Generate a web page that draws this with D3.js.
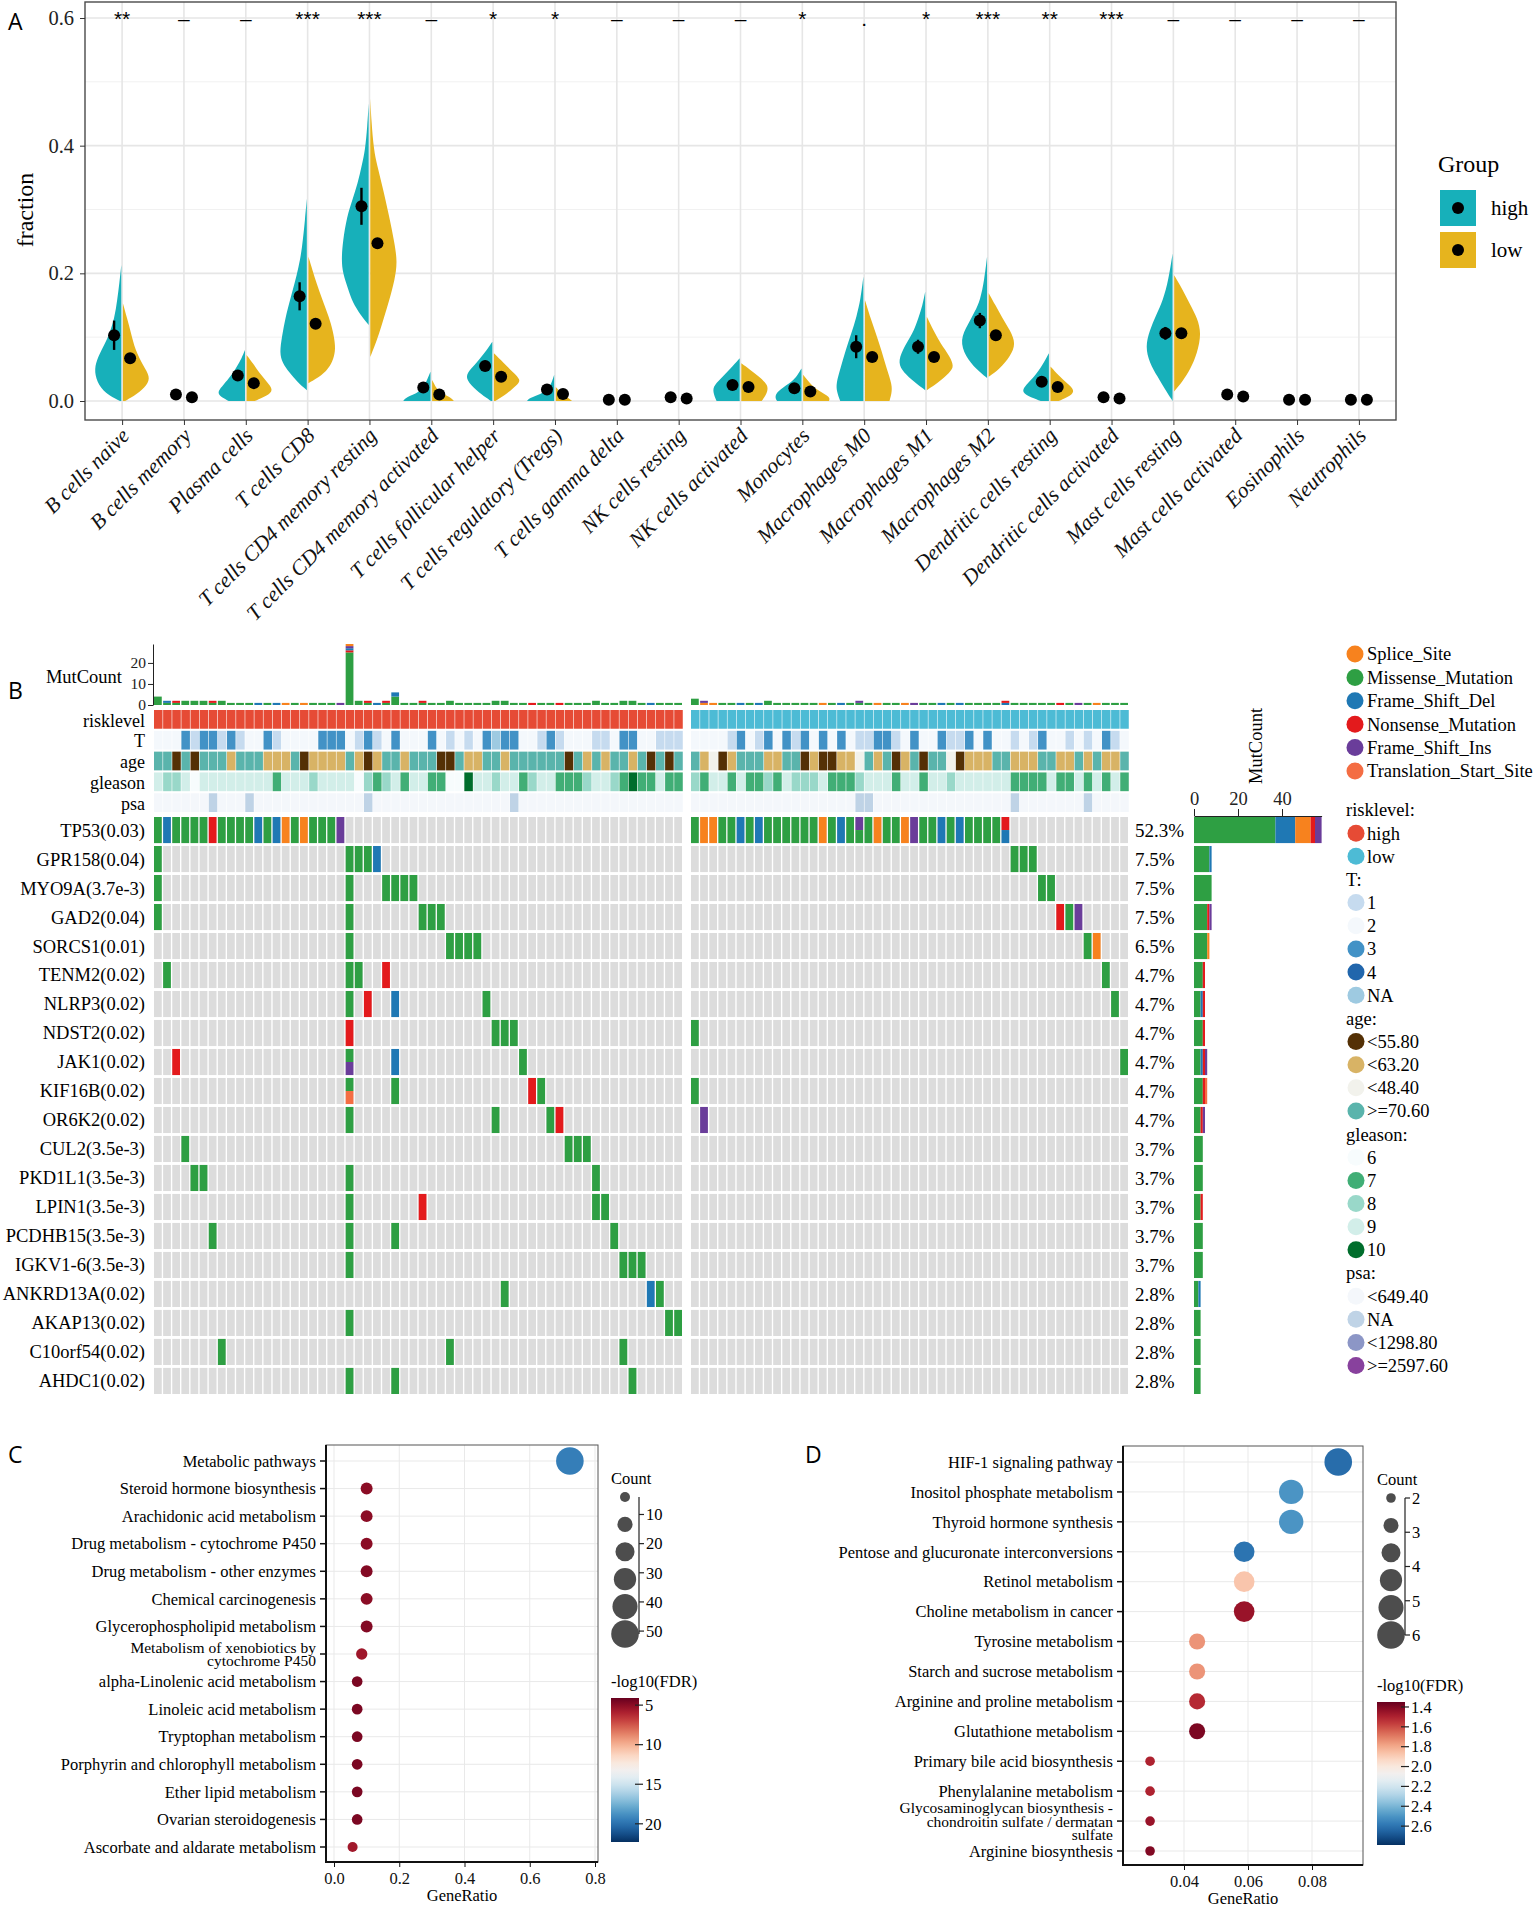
<!DOCTYPE html>
<html>
<head>
<meta charset="utf-8">
<script src="https://cdn.jsdelivr.net/npm/d3@7/dist/d3.min.js"></script>
<style>
  body { margin: 0; background: #fff; }
  svg text { font-family: "Liberation Serif", "Times New Roman", serif; }
</style>
</head>
<body>
<svg id="fig" width="1535" height="1910"></svg>
<script>
// ---------- A: immune cell fractions ----------
var cellTypes = ["B cells naive", "B cells memory", "Plasma cells", "T cells CD8", "T cells CD4 memory resting",
    "T cells CD4 memory activated", "T cells follicular helper", "T cells regulatory (Tregs)", "T cells gamma delta",
    "NK cells resting", "NK cells activated", "Monocytes", "Macrophages M0", "Macrophages M1", "Macrophages M2",
    "Dendritic cells resting", "Dendritic cells activated", "Mast cells resting", "Mast cells activated",
    "Eosinophils", "Neutrophils"];
var sigLabels = ["**", "–", "–", "***", "***", "–", "*", "*", "–", "–", "–", "*", ".", "*", "***", "**", "***", "–", "–", "–", "–"];
var highMean = [0.103, 0.010, 0.040, 0.164, 0.305, 0.021, 0.055, 0.018, 0.002, 0.006, 0.025, 0.020, 0.085, 0.085, 0.126, 0.030, 0.006, 0.106, 0.010, 0.002, 0.002];
var lowMean = [0.067, 0.006, 0.028, 0.121, 0.247, 0.010, 0.038, 0.011, 0.002, 0.004, 0.022, 0.015, 0.069, 0.069, 0.103, 0.022, 0.004, 0.106, 0.007, 0.002, 0.002];
var highErr = [0.023, 0.002, 0.006, 0.022, 0.029, 0.004, 0.008, 0.004, 0, 0.001, 0.004, 0.004, 0.018, 0.011, 0.012, 0.006, 0.001, 0.010, 0.002, 0, 0];
var lowErr = [0.005, 0.001, 0.004, 0.007, 0.008, 0.002, 0.005, 0.002, 0, 0.001, 0.003, 0.003, 0.006, 0.006, 0.007, 0.004, 0.001, 0.008, 0.001, 0, 0];
// violin outlines: [fraction, relative half width]
var highViolins = [
    [[0, 0.05], [0.012, 0.6], [0.03, 0.9], [0.05, 1], [0.07, 0.85], [0.09, 0.6], [0.106, 0.43], [0.13, 0.25], [0.158, 0.15], [0.185, 0.07], [0.213, 0]],
    null,
    [[0, 0.6], [0.008, 0.95], [0.015, 1], [0.025, 0.8], [0.04, 0.5], [0.054, 0.3], [0.067, 0.12], [0.08, 0]],
    [[0.017, 0], [0.03, 0.35], [0.045, 0.65], [0.06, 0.9], [0.075, 1], [0.1, 0.92], [0.132, 0.78], [0.158, 0.62], [0.184, 0.45], [0.21, 0.3], [0.237, 0.18], [0.287, 0.06], [0.317, 0]],
    [[0.119, 0], [0.135, 0.3], [0.155, 0.6], [0.175, 0.75], [0.2, 0.95], [0.221, 1], [0.25, 0.95], [0.289, 0.8], [0.315, 0.6], [0.341, 0.4], [0.37, 0.25], [0.393, 0.13], [0.43, 0.05], [0.466, 0]],
    [[0, 1], [0.006, 0.9], [0.012, 0.5], [0.02, 0.3], [0.03, 0.15], [0.046, 0]],
    [[0, 0.05], [0.01, 0.4], [0.025, 0.8], [0.038, 1], [0.05, 0.8], [0.064, 0.5], [0.08, 0.2], [0.093, 0]],
    [[0, 1], [0.005, 0.9], [0.01, 0.5], [0.02, 0.2], [0.03, 0.08], [0.041, 0]],
    null,
    null,
    [[0, 0.85], [0.01, 0.95], [0.022, 1], [0.035, 0.7], [0.05, 0.35], [0.067, 0]],
    [[0, 0.9], [0.008, 1], [0.018, 0.8], [0.03, 0.35], [0.04, 0.15], [0.051, 0]],
    [[0, 0.85], [0.015, 0.98], [0.028, 1], [0.05, 0.85], [0.08, 0.65], [0.105, 0.45], [0.132, 0.25], [0.16, 0.1], [0.195, 0]],
    [[0.017, 0], [0.03, 0.4], [0.045, 0.8], [0.059, 1], [0.08, 0.85], [0.106, 0.45], [0.13, 0.25], [0.15, 0.1], [0.171, 0]],
    [[0.036, 0], [0.05, 0.4], [0.07, 0.8], [0.096, 1], [0.12, 0.7], [0.14, 0.45], [0.158, 0.25], [0.19, 0.1], [0.226, 0]],
    [[0, 0.3], [0.008, 0.8], [0.015, 1], [0.025, 0.85], [0.04, 0.5], [0.055, 0.25], [0.075, 0]],
    null,
    [[0, 0], [0.02, 0.3], [0.038, 0.55], [0.06, 0.85], [0.085, 1], [0.11, 0.85], [0.135, 0.6], [0.158, 0.35], [0.19, 0.15], [0.231, 0]],
    null,
    null,
    null
];
var lowViolins = [
    [[0, 0.08], [0.01, 0.5], [0.025, 0.9], [0.038, 1], [0.055, 0.75], [0.08, 0.45], [0.106, 0.3], [0.13, 0.15], [0.153, 0]],
    null,
    [[0, 0.3], [0.008, 0.75], [0.017, 1], [0.03, 0.75], [0.045, 0.45], [0.058, 0.25], [0.072, 0]],
    [[0.028, 0], [0.04, 0.5], [0.054, 0.8], [0.07, 0.95], [0.085, 1], [0.11, 0.9], [0.132, 0.75], [0.16, 0.5], [0.184, 0.3], [0.205, 0.15], [0.226, 0]],
    [[0.069, 0], [0.085, 0.15], [0.106, 0.33], [0.13, 0.5], [0.158, 0.7], [0.19, 0.9], [0.218, 1], [0.25, 0.88], [0.289, 0.7], [0.341, 0.42], [0.37, 0.25], [0.393, 0.13], [0.44, 0.04], [0.474, 0]],
    [[0, 0.8], [0.005, 0.7], [0.012, 0.35], [0.02, 0.15], [0.033, 0]],
    [[0, 0.05], [0.012, 0.5], [0.025, 0.85], [0.033, 1], [0.045, 0.7], [0.06, 0.35], [0.075, 0]],
    [[0, 0.6], [0.005, 0.45], [0.012, 0.2], [0.022, 0]],
    null,
    null,
    [[0, 0.75], [0.012, 0.95], [0.025, 1], [0.038, 0.65], [0.05, 0.3], [0.059, 0]],
    [[0, 0.95], [0.006, 1], [0.015, 0.6], [0.025, 0.3], [0.041, 0]],
    [[0, 0.9], [0.012, 0.98], [0.025, 1], [0.05, 0.8], [0.08, 0.6], [0.106, 0.4], [0.13, 0.2], [0.158, 0]],
    [[0.017, 0], [0.03, 0.45], [0.045, 0.85], [0.054, 1], [0.07, 0.85], [0.09, 0.5], [0.11, 0.25], [0.132, 0]],
    [[0.038, 0], [0.05, 0.4], [0.07, 0.8], [0.09, 1], [0.11, 0.8], [0.13, 0.5], [0.15, 0.25], [0.169, 0]],
    [[0, 0.3], [0.008, 0.75], [0.017, 0.9], [0.028, 0.6], [0.04, 0.3], [0.054, 0]],
    null,
    [[0.015, 0], [0.03, 0.3], [0.05, 0.6], [0.075, 0.85], [0.106, 1], [0.13, 0.85], [0.15, 0.6], [0.175, 0.3], [0.197, 0]],
    null,
    null,
    null
];
var groupNames = ["high", "low"];
var groupColors = ["#17B0BA", "#E6B41E"];

// ---------- B: oncoplot ----------
var genes = ["TP53", "GPR158", "MYO9A", "GAD2", "SORCS1", "TENM2", "NLRP3", "NDST2", "JAK1", "KIF16B", "OR6K2",
    "CUL2", "PKD1L1", "LPIN1", "PCDHB15", "IGKV1-6", "ANKRD13A", "AKAP13", "C10orf54", "AHDC1"];
var genePval = ["0.03", "0.04", "3.7e-3", "0.04", "0.01", "0.02", "0.02", "0.02", "0.02", "0.02", "0.02",
    "3.5e-3", "3.5e-3", "3.5e-3", "3.5e-3", "3.5e-3", "0.02", "0.02", "0.02", "0.02"];
var genePct = ["52.3%", "7.5%", "7.5%", "7.5%", "6.5%", "4.7%", "4.7%", "4.7%", "4.7%", "4.7%", "4.7%",
    "3.7%", "3.7%", "3.7%", "3.7%", "3.7%", "2.8%", "2.8%", "2.8%", "2.8%"];
var mutCodes = ["S", "M", "D", "N", "I", "T"];
var mutNames = ["Splice_Site", "Missense_Mutation", "Frame_Shift_Del", "Nonsense_Mutation", "Frame_Shift_Ins", "Translation_Start_Site"];
var mutColors = ["#F7821E", "#2E9F43", "#1F78B4", "#E31A1C", "#6A3D9A", "#F46D43"];
// [sample column, mutation types (top to bottom when split)]
var highRows = [
    [[0, "M"], [1, "D"], [2, "M"], [3, "M"], [4, "M"], [5, "M"], [6, "N"], [7, "M"], [8, "M"], [9, "M"], [10, "M"], [11, "D"], [12, "M"], [13, "D"], [14, "S"], [15, "M"], [16, "S"], [17, "M"], [18, "M"], [19, "M"], [20, "I"]],
    [[0, "M"], [21, "M"], [22, "M"], [23, "M"], [24, "D"]],
    [[0, "M"], [21, "M"], [25, "M"], [26, "M"], [27, "M"], [28, "M"]],
    [[0, "M"], [21, "M"], [29, "M"], [30, "M"], [31, "M"]],
    [[21, "M"], [32, "M"], [33, "M"], [34, "M"], [35, "M"]],
    [[1, "M"], [21, "M"], [22, "M"], [25, "N"]],
    [[21, "M"], [23, "N"], [26, "D"], [36, "M"]],
    [[21, "N"], [37, "M"], [38, "M"], [39, "M"]],
    [[2, "N"], [21, "MI"], [26, "D"], [40, "M"]],
    [[21, "MT"], [26, "M"], [41, "N"], [42, "M"]],
    [[21, "M"], [37, "M"], [43, "M"], [44, "N"]],
    [[3, "M"], [45, "M"], [46, "M"], [47, "M"]],
    [[4, "M"], [5, "M"], [21, "M"], [48, "M"]],
    [[21, "M"], [29, "N"], [48, "M"], [49, "M"]],
    [[6, "M"], [21, "M"], [26, "M"], [50, "M"]],
    [[21, "M"], [51, "M"], [52, "M"], [53, "M"]],
    [[38, "M"], [54, "D"], [55, "M"]],
    [[21, "M"], [56, "M"], [57, "M"]],
    [[7, "M"], [32, "M"], [51, "M"]],
    [[21, "M"], [26, "M"], [52, "M"]]
];
var lowRows = [
    [[0, "M"], [1, "S"], [2, "S"], [3, "M"], [4, "M"], [5, "D"], [6, "M"], [7, "D"], [8, "M"], [9, "M"], [10, "M"], [11, "M"], [12, "M"], [13, "M"], [14, "S"], [15, "M"], [16, "D"], [17, "M"], [18, "IM"], [19, "M"], [20, "S"], [21, "M"], [22, "M"], [23, "S"], [24, "I"], [25, "M"], [26, "M"], [27, "D"], [28, "M"], [29, "D"], [30, "M"], [31, "M"], [32, "M"], [33, "M"], [34, "ND"]],
    [[35, "M"], [36, "M"], [37, "M"]],
    [[38, "M"], [39, "M"]],
    [[40, "N"], [41, "M"], [42, "I"]],
    [[43, "M"], [44, "S"]],
    [[45, "M"]],
    [[46, "M"]],
    [[0, "M"]],
    [[47, "M"]],
    [[0, "M"]],
    [[1, "I"]],
    [], [], [], [], [], [], [], [], []
];
// total mutations per sample (type + count, stacked bottom to top)
var mutCountHigh = ["M4", "M1D1", "M1N1", "M2", "M2", "M2", "M1N1", "M2", "M1", "M1",
    "M1", "D1", "M1", "D1", "S1", "M1", "S1", "M1", "M1", "M1",
    "I1", "M25N1D1I1S1", "M2", "M1N1", "D1", "M1N1", "M4D2", "M1", "M1", "M1N1",
    "M1", "M1", "M2", "M1", "M1", "M1", "M1", "M2", "M2", "M1",
    "M1", "N1", "M1", "M1", "N1", "M1", "M1", "M1", "M2", "M1",
    "M1", "M2", "M2", "M1", "D1", "M1", "M1", "M1"];
var mutCountLow = ["M3", "S1I1", "S1", "M1", "M1", "D1", "M1", "D1", "M2", "M1",
    "M1", "M1", "M1", "M1", "S1", "M1", "D1", "M1", "M1I1", "M1",
    "S1", "M1", "M1", "S1", "I1", "M1", "M1", "D1", "M1", "D1",
    "M1", "M1", "M1", "M1", "D1N1", "M1", "M1", "M1", "M1", "M1",
    "N1", "M1", "I1", "M1", "S1", "M1", "M1", "M1"];
var annoNames = ["risklevel", "T", "age", "gleason", "psa"];
var riskLevels = ["high", "low"];
var riskColors = ["#E64B35", "#4DBBD5"];
var tLevels = ["1", "2", "3", "4", "NA"];
var tColors = ["#C6DBEF", "#F4F8FC", "#4292C6", "#2166AC", "#9ECAE1"];
var ageLevels = ["<55.80", "<63.20", "<48.40", ">=70.60"];
var ageColors = ["#543005", "#D8B365", "#F2F2EC", "#5AB4AC"];
var gleasonLevels = ["6", "7", "8", "9", "10"];
var gleasonColors = ["#F7FCFD", "#41AE76", "#99D8C9", "#D2EEE9", "#006D2C"];
var psaLevels = ["<649.40", "NA", "<1298.80", ">=2597.60"];
var psaColors = ["#F4F7FB", "#BFD3E6", "#8C96C6", "#88419D"];
// per-sample clinical codes (index into the level lists; T uses 1-4 and N for NA)
var tHigh = "2223133131" + "2231222233" + "3213123222" + "3212123N33" + "2213122211" + "23322111";
var tLow = "2222132132" + "3132323211" + "3312322311" + "3232212132" + "21212312";
var ageHigh = "3303033313" + "3311130111" + "1310133133" + "3003113313" + "3333303131" + "33130303";
var ageLow = "3120133311" + "3301001123" + "1301303320" + "1113311133" + "11313113";
var gleasonHigh = "3223033333" + "3331333233" + "3302123133" + "1100433233" + "1233111233" + "21411311";
var gleasonLow = "2133131121" + "3222311123" + "3313313323" + "3333311113" + "11313131";
var psaHigh = "0000001000" + "1000000000" + "0001000000" + "0000000001" + "0000000000" + "00000000";
var psaLow = "0000000000" + "0000000011" + "0000000000" + "0000010000" + "00010000";

// ---------- C / D: KEGG enrichment ----------
var keggC = ["Metabolic pathways", "Steroid hormone biosynthesis", "Arachidonic acid metabolism",
    "Drug metabolism - cytochrome P450", "Drug metabolism - other enzymes", "Chemical carcinogenesis",
    "Glycerophospholipid metabolism", "Metabolism of xenobiotics by\ncytochrome P450", "alpha-Linolenic acid metabolism",
    "Linoleic acid metabolism", "Tryptophan metabolism", "Porphyrin and chlorophyll metabolism",
    "Ether lipid metabolism", "Ovarian steroidogenesis", "Ascorbate and aldarate metabolism"];
var ratioC = [0.723, 0.1, 0.1, 0.1, 0.1, 0.1, 0.1, 0.085, 0.071, 0.071, 0.071, 0.071, 0.071, 0.071, 0.057];
var countC = [51, 7, 7, 7, 7, 7, 7, 6, 5, 5, 5, 5, 5, 5, 4];
var fdrC = [19.5, 5, 5, 5, 4.8, 5, 4.8, 5.5, 4.6, 4.6, 4.6, 4.6, 4.6, 4.6, 5.6];
var keggD = ["HIF-1 signaling pathway", "Inositol phosphate metabolism", "Thyroid hormone synthesis",
    "Pentose and glucuronate interconversions", "Retinol metabolism", "Choline metabolism in cancer",
    "Tyrosine metabolism", "Starch and sucrose metabolism", "Arginine and proline metabolism",
    "Glutathione metabolism", "Primary bile acid biosynthesis", "Phenylalanine metabolism",
    "Glycosaminoglycan biosynthesis -\nchondroitin sulfate / dermatan\nsulfate", "Arginine biosynthesis"];
var ratioD = [0.0882, 0.0735, 0.0735, 0.0588, 0.0588, 0.0588, 0.0441, 0.0441, 0.0441, 0.0441, 0.0294, 0.0294, 0.0294, 0.0294];
var countD = [6, 5, 5, 4, 4, 4, 3, 3, 3, 3, 2, 2, 2, 2];
var fdrD = [2.62, 2.5, 2.5, 2.6, 1.87, 1.45, 1.75, 1.75, 1.52, 1.39, 1.5, 1.5, 1.45, 1.4];

var svg = d3.select("#fig");

// panel letters
svg.selectAll("text.letter")
    .data([["A", 8, 30], ["B", 8, 699], ["C", 8, 1463], ["D", 805, 1463]])
    .enter()
    .append("text")
    .attr("x", function (d) { return d[1]; })
    .attr("y", function (d) { return d[2]; })
    .style("font-family", "'Open Sans', 'DejaVu Sans', sans-serif")
    .attr("font-size", 23)
    .text(function (d) { return d[0]; });

// ===== panel A =====
var aLeft = 85, aRight = 1396, aTop = 2, aBottom = 420;
var xA = d3.scalePoint().domain(cellTypes).range([aLeft, aRight]).padding(0.6);
var yA = d3.scaleLinear().domain([0, 0.6]).range([401, 18]);
var halfW = xA.step() * 0.44;
var dodge = 8;
var panelA = svg.append("g");

panelA.selectAll("line.minor")
    .data([0.1, 0.3, 0.5])
    .enter()
    .append("line")
    .attr("x1", aLeft).attr("x2", aRight)
    .attr("y1", yA).attr("y2", yA)
    .attr("stroke", "#F1F1F1")
    .attr("stroke-width", 1);
panelA.selectAll("line.major")
    .data([0, 0.2, 0.4, 0.6])
    .enter()
    .append("line")
    .attr("x1", aLeft).attr("x2", aRight)
    .attr("y1", yA).attr("y2", yA)
    .attr("stroke", "#E6E6E6")
    .attr("stroke-width", 1.6);
panelA.selectAll("line.vgrid")
    .data(cellTypes)
    .enter()
    .append("line")
    .attr("x1", xA).attr("x2", xA)
    .attr("y1", aTop).attr("y2", aBottom)
    .attr("stroke", "#E6E6E6")
    .attr("stroke-width", 1.6);

function halfViolin(profile, cx, side) {
    return d3.area()
        .curve(d3.curveBasis)
        .y(function (d) { return yA(d[0]); })
        .x0(cx + side * 0.8)
        .x1(function (d) { return cx + side * (0.8 + d[1] * halfW); })(profile);
}

cellTypes.forEach(function (c, i) {
    var cx = xA(c);
    if (highViolins[i]) {
        panelA.append("path").attr("d", halfViolin(highViolins[i], cx, -1)).attr("fill", groupColors[0]);
    }
    if (lowViolins[i]) {
        panelA.append("path").attr("d", halfViolin(lowViolins[i], cx, 1)).attr("fill", groupColors[1]);
    }
});

[[highMean, highErr, -1], [lowMean, lowErr, 1]].forEach(function (g) {
    panelA.append("g").selectAll("line")
        .data(cellTypes)
        .enter()
        .append("line")
        .attr("x1", function (d) { return xA(d) + g[2] * dodge; })
        .attr("x2", function (d) { return xA(d) + g[2] * dodge; })
        .attr("y1", function (d, i) { return yA(g[0][i] - g[1][i]); })
        .attr("y2", function (d, i) { return yA(g[0][i] + g[1][i]); })
        .attr("stroke", "#000")
        .attr("stroke-width", 2.4);
    panelA.append("g").selectAll("circle")
        .data(cellTypes)
        .enter()
        .append("circle")
        .attr("cx", function (d) { return xA(d) + g[2] * dodge; })
        .attr("cy", function (d, i) { return yA(g[0][i]); })
        .attr("r", 6)
        .attr("fill", "#000");
});

panelA.append("g").selectAll("text")
    .data(cellTypes)
    .enter()
    .append("text")
    .attr("x", xA)
    .attr("y", 26)
    .attr("text-anchor", "middle")
    .style("font-family", "'Liberation Sans', Arial, sans-serif")
    .attr("font-size", 21)
    .text(function (d, i) { return sigLabels[i]; });

panelA.append("rect")
    .attr("x", aLeft).attr("y", aTop)
    .attr("width", aRight - aLeft).attr("height", aBottom - aTop)
    .attr("fill", "none")
    .attr("stroke", "#4A4A4A")
    .attr("stroke-width", 1.4);

var yAxisA = panelA.append("g")
    .attr("transform", "translate(" + aLeft + ",0)")
    .attr("color", "#333")
    .call(d3.axisLeft(yA).tickValues([0, 0.2, 0.4, 0.6]).tickFormat(d3.format(".1f")).tickSize(5).tickPadding(6));
yAxisA.select(".domain").remove();
yAxisA.selectAll("text").attr("font-size", 20.5).attr("fill", "#222");

var xAxisA = panelA.append("g")
    .attr("transform", "translate(0," + aBottom + ")")
    .attr("color", "#333")
    .call(d3.axisBottom(xA).tickSize(5));
xAxisA.select(".domain").remove();
xAxisA.selectAll("text")
    .attr("x", 0).attr("y", 0).attr("dy", 0)
    .attr("transform", "translate(8,17) rotate(-45)")
    .style("text-anchor", "end")
    .attr("font-style", "italic")
    .attr("font-size", 21.5)
    .attr("fill", "#111");

svg.append("text")
    .attr("transform", "translate(33,210) rotate(-90)")
    .attr("text-anchor", "middle")
    .attr("font-size", 24)
    .text("fraction");

var legA = svg.append("g");
legA.append("text").attr("x", 1438).attr("y", 172).attr("font-size", 24).text("Group");
groupNames.forEach(function (g, i) {
    var top = 190 + i * 42;
    legA.append("rect").attr("x", 1440).attr("y", top).attr("width", 36).attr("height", 36).attr("fill", groupColors[i]);
    legA.append("circle").attr("cx", 1458).attr("cy", top + 18).attr("r", 6).attr("fill", "#000");
    legA.append("text").attr("x", 1491).attr("y", top + 25).attr("font-size", 21).text(g);
});

// ===== panel B =====
var mutColor = d3.scaleOrdinal().domain(mutCodes).range(mutColors);
var xHigh = d3.scaleBand().domain(d3.range(mutCountHigh.length)).range([154, 682]).paddingInner(0.15);
var xLow = d3.scaleBand().domain(d3.range(mutCountLow.length)).range([691, 1128]).paddingInner(0.15);
var yGene = d3.scaleBand().domain(genes).range([817, 1394]).paddingInner(0.1);
var yAnno = d3.scaleBand().domain(annoNames).range([710, 812]).paddingInner(0.1);
var yMut = d3.scaleLinear().domain([0, 29]).range([705, 644]);
var panelB = svg.append("g");

var blocks = [
    { x: xHigh, rows: highRows, bars: mutCountHigh, risk: "high", t: tHigh, age: ageHigh, gleason: gleasonHigh, psa: psaHigh },
    { x: xLow, rows: lowRows, bars: mutCountLow, risk: "low", t: tLow, age: ageLow, gleason: gleasonLow, psa: psaLow }
];

function parseBar(s) {
    var parts = [], m, re = /([A-Z])(\d+)/g;
    while ((m = re.exec(s)) !== null) { parts.push([m[1], +m[2]]); }
    return parts;
}

blocks.forEach(function (b) {
    var cols = b.x.domain();
    var w = b.x.bandwidth();
    var step = b.x.step();

    // top mutation counts
    cols.forEach(function (c) {
        var acc = 0;
        parseBar(b.bars[c]).forEach(function (p) {
            panelB.append("rect")
                .attr("x", b.x(c)).attr("width", w)
                .attr("y", yMut(acc + p[1]))
                .attr("height", yMut(acc) - yMut(acc + p[1]))
                .attr("fill", mutColor(p[0]));
            acc += p[1];
        });
    });

    // clinical annotation tracks
    var tracks = [
        cols.map(function () { return riskColors[riskLevels.indexOf(b.risk)]; }),
        b.t.split("").map(function (ch) { return tColors[ch === "N" ? 4 : +ch - 1]; }),
        b.age.split("").map(function (ch) { return ageColors[+ch]; }),
        b.gleason.split("").map(function (ch) { return gleasonColors[+ch]; }),
        b.psa.split("").map(function (ch) { return psaColors[+ch]; })
    ];
    tracks.forEach(function (colors, k) {
        panelB.append("g").selectAll("rect")
            .data(cols)
            .enter()
            .append("rect")
            .attr("x", function (c) { return b.x(c); })
            .attr("y", yAnno(annoNames[k]))
            .attr("width", step - 0.6)
            .attr("height", yAnno.bandwidth())
            .attr("fill", function (c) { return colors[c]; });
    });

    // oncoprint cells
    genes.forEach(function (g, gi) {
        panelB.append("g").selectAll("rect")
            .data(cols)
            .enter()
            .append("rect")
            .attr("x", function (c) { return b.x(c); })
            .attr("y", yGene(g))
            .attr("width", w)
            .attr("height", yGene.bandwidth())
            .attr("fill", "#DCDCDC");
        b.rows[gi].forEach(function (m) {
            var types = m[1].split("");
            var h = yGene.bandwidth() / types.length;
            types.forEach(function (t, k) {
                panelB.append("rect")
                    .attr("x", b.x(m[0])).attr("width", w)
                    .attr("y", yGene(g) + k * h).attr("height", h)
                    .attr("fill", mutColor(t));
            });
        });
    });
});

// mutcount axis
var mutAxis = panelB.append("g")
    .attr("transform", "translate(153,0)")
    .attr("color", "#222")
    .call(d3.axisLeft(yMut).tickValues([0, 10, 20]).tickSize(5).tickSizeOuter(0).tickPadding(2));
mutAxis.selectAll("text").attr("font-size", 15.5);
panelB.append("text").attr("x", 122).attr("y", 683).attr("text-anchor", "end").attr("font-size", 18.5).text("MutCount");

// row and track labels
panelB.append("g").selectAll("text")
    .data(genes)
    .enter()
    .append("text")
    .attr("x", 145)
    .attr("y", function (d) { return yGene(d) + yGene.bandwidth() / 2; })
    .attr("dy", "0.35em")
    .attr("text-anchor", "end")
    .attr("font-size", 18.5)
    .text(function (d, i) { return d + "(" + genePval[i] + ")"; });
panelB.append("g").selectAll("text")
    .data(annoNames)
    .enter()
    .append("text")
    .attr("x", 145)
    .attr("y", function (d) { return yAnno(d) + yAnno.bandwidth() / 2 + 1; })
    .attr("dy", "0.35em")
    .attr("text-anchor", "end")
    .attr("font-size", 18)
    .text(function (d) { return d; });
panelB.append("g").selectAll("text")
    .data(genes)
    .enter()
    .append("text")
    .attr("x", 1135)
    .attr("y", function (d) { return yGene(d) + yGene.bandwidth() / 2; })
    .attr("dy", "0.35em")
    .attr("font-size", 19)
    .text(function (d, i) { return genePct[i]; });

// right-hand counts per gene, stacked by type
var stackOrder = ["M", "D", "S", "N", "I", "T"];
var geneTotals = genes.map(function (g, gi) {
    var cnt = {};
    stackOrder.forEach(function (t) { cnt[t] = 0; });
    highRows[gi].concat(lowRows[gi]).forEach(function (m) {
        m[1].split("").forEach(function (t) { cnt[t] += 1; });
    });
    return cnt;
});
var xCount = d3.scaleLinear().domain([0, 58]).range([1194, 1321.6]);
genes.forEach(function (g, gi) {
    var acc = 0;
    stackOrder.forEach(function (t) {
        var n = geneTotals[gi][t];
        if (!n) return;
        panelB.append("rect")
            .attr("x", xCount(acc)).attr("width", xCount(acc + n) - xCount(acc))
            .attr("y", yGene(g)).attr("height", yGene.bandwidth())
            .attr("fill", mutColor(t));
        acc += n;
    });
});
var countAxis = panelB.append("g")
    .attr("transform", "translate(0,816)")
    .attr("color", "#222")
    .call(d3.axisTop(xCount).tickValues([0, 20, 40]).tickSize(7).tickSizeOuter(0).tickPadding(4));
countAxis.selectAll("text").attr("font-size", 18.5);
panelB.append("text")
    .attr("transform", "translate(1262,746) rotate(-90)")
    .attr("text-anchor", "middle")
    .attr("font-size", 18.5)
    .text("MutCount");

// legends
var legB = panelB.append("g");
mutNames.forEach(function (n, i) {
    var y = 654 + i * 23.4;
    legB.append("circle").attr("cx", 1355).attr("cy", y).attr("r", 8.5).attr("fill", mutColors[i]);
    legB.append("text").attr("x", 1367).attr("y", y).attr("dy", "0.35em").attr("font-size", 18.5).text(n);
});
var annoLegend = [["risklevel:", riskLevels, riskColors], ["T:", tLevels, tColors], ["age:", ageLevels, ageColors],
    ["gleason:", gleasonLevels, gleasonColors], ["psa:", psaLevels, psaColors]];
var line = 0;
annoLegend.forEach(function (grp) {
    legB.append("text").attr("x", 1346).attr("y", 810 + line * 23.15).attr("dy", "0.35em").attr("font-size", 18.5).text(grp[0]);
    line += 1;
    grp[1].forEach(function (lv, i) {
        var y = 810 + line * 23.15;
        legB.append("circle").attr("cx", 1356).attr("cy", y).attr("r", 8.5).attr("fill", grp[2][i]);
        legB.append("text").attr("x", 1367).attr("y", y).attr("dy", "0.35em").attr("font-size", 18.5).text(lv);
        line += 1;
    });
});

// ===== panels C and D =====
var fs = 16.5;
function dotPlot(o) {
    var g = svg.append("g");
    var x = d3.scaleLinear().domain(o.xDomain).range(o.xRange);
    var y = d3.scalePoint().domain(o.names).range([o.rowTop, o.rowBottom]);
    var r = d3.scaleRadial().domain(d3.extent(o.counts)).range(o.rRange);
    var col = d3.scaleSequential(d3.interpolateRdBu).domain(o.fdrDomain);

    g.selectAll("line.vg").data(o.xTicks).enter().append("line")
        .attr("x1", x).attr("x2", x).attr("y1", o.top).attr("y2", o.bottom)
        .attr("stroke", "#E9E9E9").attr("stroke-width", 1);
    g.selectAll("line.hg").data(o.names).enter().append("line")
        .attr("x1", o.left).attr("x2", o.right).attr("y1", y).attr("y2", y)
        .attr("stroke", "#E9E9E9").attr("stroke-width", 1);
    g.append("rect")
        .attr("x", o.left).attr("y", o.top)
        .attr("width", o.right - o.left).attr("height", o.bottom - o.top)
        .attr("fill", "none").attr("stroke", "#555").attr("stroke-width", 1);
    g.append("path")
        .attr("d", "M" + o.left + "," + o.top + "V" + o.bottom + "H" + o.right)
        .attr("fill", "none").attr("stroke", "#111").attr("stroke-width", 2);

    g.selectAll("circle.dot").data(o.names).enter().append("circle")
        .attr("cx", function (d, i) { return x(o.ratios[i]); })
        .attr("cy", y)
        .attr("r", function (d, i) { return r(o.counts[i]); })
        .attr("fill", function (d, i) { return col(o.fdr[i]); });

    // y tick marks and labels (wrapped labels set tighter)
    g.selectAll("line.yt").data(o.names).enter().append("line")
        .attr("x1", o.left - 6).attr("x2", o.left).attr("y1", y).attr("y2", y)
        .attr("stroke", "#111").attr("stroke-width", 1.5);
    o.names.forEach(function (n) {
        var lines = n.split("\n");
        var size = lines.length > 1 ? 15.5 : fs;
        var lh = 13.5;
        var t = g.append("text")
            .attr("x", o.left - 10)
            .attr("y", y(n))
            .attr("text-anchor", "end")
            .attr("font-size", size);
        lines.forEach(function (l, k) {
            t.append("tspan")
                .attr("x", o.left - 10)
                .attr("dy", k === 0 ? (0.35 * size - (lines.length - 1) * lh / 2) + "px" : lh + "px")
                .text(l);
        });
    });

    // x axis
    var xa = g.append("g")
        .attr("transform", "translate(0," + o.bottom + ")")
        .attr("color", "#111")
        .call(d3.axisBottom(x).tickValues(o.xTicks).tickFormat(d3.format(o.xFmt)).tickSize(5).tickSizeOuter(0).tickPadding(5));
    xa.select(".domain").remove();
    xa.selectAll("text").attr("font-size", fs);
    g.append("text")
        .attr("x", (o.left + o.right) / 2).attr("y", o.bottom + 39)
        .attr("text-anchor", "middle").attr("font-size", fs)
        .text("GeneRatio");

    // size legend
    var sy = d3.scaleLinear().domain(d3.extent(o.counts)).range([o.sizeTop, o.sizeBottom]);
    var ext = d3.extent(o.counts);
    var keys = d3.range(6).map(function (k) { return ext[0] + k * (ext[1] - ext[0]) / 5; });
    g.append("text").attr("x", o.legX - 14).attr("y", o.sizeTop - 13).attr("font-size", fs).text("Count");
    g.selectAll("circle.key").data(keys).enter().append("circle")
        .attr("cx", o.legX).attr("cy", sy).attr("r", r).attr("fill", "#4D4D4D");
    g.append("line")
        .attr("x1", o.legX + 14).attr("x2", o.legX + 14)
        .attr("y1", o.sizeTop).attr("y2", o.sizeBottom)
        .attr("stroke", "#222").attr("stroke-width", 1.2);
    g.selectAll("line.st").data(o.sizeTicks).enter().append("line")
        .attr("x1", o.legX + 14).attr("x2", o.legX + 19).attr("y1", sy).attr("y2", sy)
        .attr("stroke", "#222").attr("stroke-width", 1.2);
    g.selectAll("text.st").data(o.sizeTicks).enter().append("text")
        .attr("x", o.legX + 21).attr("y", sy).attr("dy", "0.35em")
        .attr("font-size", fs).text(function (d) { return d; });

    // colour bar
    var gid = "grad" + o.id;
    var grad = svg.append("defs").append("linearGradient")
        .attr("id", gid).attr("x1", 0).attr("x2", 0).attr("y1", 0).attr("y2", 1);
    d3.range(21).forEach(function (k) {
        grad.append("stop").attr("offset", k / 20).attr("stop-color", d3.interpolateRdBu(k / 20));
    });
    var cy = d3.scaleLinear().domain(o.fdrDomain).range([o.barTop, o.barBottom]);
    g.append("text").attr("x", o.legX - 14).attr("y", o.barTop - 11).attr("font-size", fs).text("-log10(FDR)");
    g.append("rect")
        .attr("x", o.legX - 14).attr("y", o.barTop)
        .attr("width", 28).attr("height", o.barBottom - o.barTop)
        .attr("fill", "url(#" + gid + ")");
    g.selectAll("line.ct").data(o.barTicks).enter().append("line")
        .attr("x1", o.legX + 10).attr("x2", o.legX + 18).attr("y1", cy).attr("y2", cy)
        .attr("stroke", "#222").attr("stroke-width", 1.2);
    g.selectAll("text.ct").data(o.barTicks).enter().append("text")
        .attr("x", o.legX + 20).attr("y", cy).attr("dy", "0.35em")
        .attr("font-size", fs).text(d3.format(o.barFmt));
}

dotPlot({
    id: "C", names: keggC, ratios: ratioC, counts: countC, fdr: fdrC,
    left: 326, right: 598, top: 1445, bottom: 1862, rowTop: 1461, rowBottom: 1847,
    xDomain: [0, 0.8], xRange: [334, 595], xTicks: [0, 0.2, 0.4, 0.6, 0.8], xFmt: ".1f",
    rRange: [5, 13.8], fdrDomain: [4.1, 22.3],
    legX: 625, sizeTop: 1497, sizeBottom: 1634, sizeTicks: [10, 20, 30, 40, 50],
    barTop: 1698, barBottom: 1842, barTicks: [5, 10, 15, 20], barFmt: "d"
});
dotPlot({
    id: "D", names: keggD, ratios: ratioD, counts: countD, fdr: fdrD,
    left: 1123, right: 1363, top: 1446, bottom: 1865, rowTop: 1462, rowBottom: 1851,
    xDomain: [0.04, 0.08], xRange: [1184, 1312], xTicks: [0.04, 0.06, 0.08], xFmt: ".2f",
    rRange: [4.8, 13.8], fdrDomain: [1.35, 2.79],
    legX: 1391, sizeTop: 1498, sizeBottom: 1635, sizeTicks: [2, 3, 4, 5, 6],
    barTop: 1702, barBottom: 1845, barTicks: [1.4, 1.6, 1.8, 2.0, 2.2, 2.4, 2.6], barFmt: ".1f"
});
</script>
</body>
</html>
